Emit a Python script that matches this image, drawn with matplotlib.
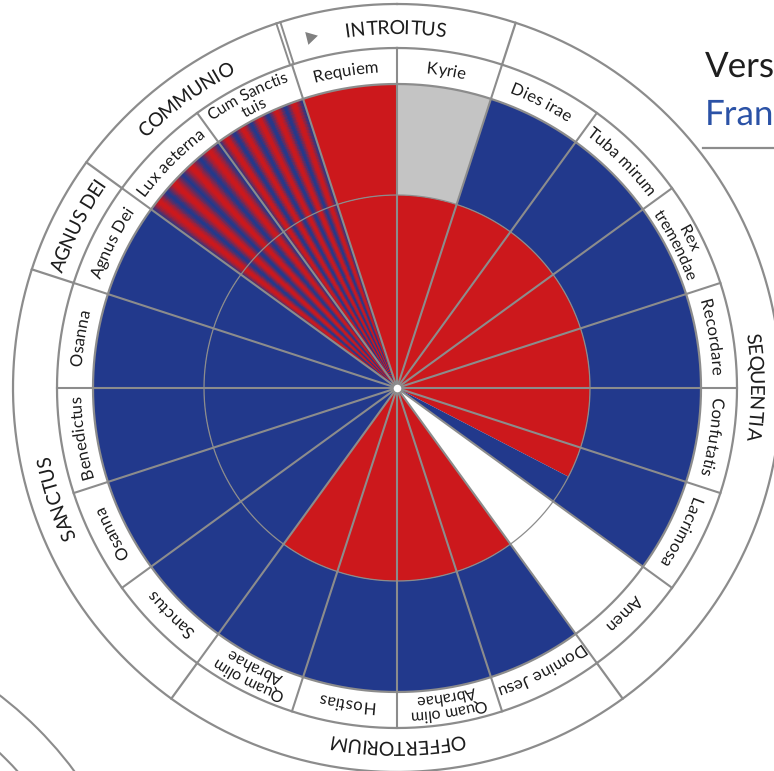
import numpy as np
import matplotlib.pyplot as plt
import matplotlib.patheffects as pe
from matplotlib import font_manager
from matplotlib.ft2font import FT2Font, LoadFlags
from matplotlib.colors import LinearSegmentedColormap
from matplotlib.patches import Circle

plt.rcParams["text.hinting"] = "none"
plt.rcParams["text.hinting_factor"] = 1

# --- data -------------------------------------------------------------
sections = ["INTROITUS", "SEQUENTIA", "OFFERTORIUM", "SANCTUS", "AGNUS DEI", "COMMUNIO"]
section_counts = [2, 7, 4, 4, 1, 2]

movements = ["Requiem", "Kyrie", "Dies irae", "Tuba mirum", "Rex\ntremendae",
             "Recordare", "Confutatis", "Lacrimosa", "Amen", "Domine Jesu",
             "Quam olim\nAbrahae", "Hostias", "Quam olim\nAbrahae", "Sanctus",
             "Osanna", "Benedictus", "Osanna", "Agnus Dei", "Lux aeterna",
             "Cum Sanctis\ntuis"]

# who wrote the inner ring (composition) and the outer ring (orchestration)
core = ["mozart", "mozart", "mozart", "mozart", "mozart", "mozart", "mozart",
        "split", "none", "mozart", "mozart", "mozart", "mozart", "sussmayr",
        "sussmayr", "sussmayr", "sussmayr", "sussmayr", "mixed", "mixed"]
orch = ["mozart", "other", "sussmayr", "sussmayr", "sussmayr", "sussmayr",
        "sussmayr", "sussmayr", "none", "sussmayr", "sussmayr", "sussmayr",
        "sussmayr", "sussmayr", "sussmayr", "sussmayr", "sussmayr", "sussmayr",
        "mixed", "mixed"]
lacrimosa_mozart_share = 0.52
stripe_cycles = {"Lux aeterna": 4, "Cum Sanctis\ntuis": 5}

colours = {"mozart": "#cc181c", "sussmayr": "#22398c", "other": "#c4c4c4", "none": "white"}
line_col = "#8c8c8c"
text_col = "#1e1e1e"

# radii in pixels
R_CORE, R_DATA, R_LAB, R_SEC = 193, 304, 340, 384

W, H = 774, 771
cx, cy = 397, 388
fig = plt.figure(figsize=(W / 100, H / 100), dpi=100)

# background axes in pixel coordinates (neighbouring wheel, header)
bg = fig.add_axes([0, 0, 1, 1], zorder=-1)
bg.set_xlim(0, W)
bg.set_ylim(H, 0)
bg.axis("off")
for rr in (R_SEC, R_LAB):
    bg.add_patch(Circle((-234, 1000), rr, fill=False, ec=line_col, lw=1.5))
bg.plot([703, W], [148, 148], color=line_col, lw=1.6)

rmax = 392
ax = fig.add_axes([(cx - rmax) / W, (H - cy - rmax) / H, 2 * rmax / W, 2 * rmax / H],
                  projection="polar")
ax.set_theta_zero_location("N")
ax.set_theta_direction(-1)
ax.set_ylim(0, rmax)
ax.set_axis_off()

n = len(movements)
w = 2 * np.pi / n
start = -w
left = start + np.arange(n) * w
centre = left + w / 2

# plain wedges
for ring, bottom, height in ((core, 0, R_CORE), (orch, R_CORE, R_DATA - R_CORE)):
    idx = [i for i, c in enumerate(ring) if c in colours]
    ax.bar(centre[idx], height, width=w, bottom=bottom,
           color=[colours[ring[i]] for i in idx], linewidth=0, zorder=1)

# Lacrimosa: split composition
i = core.index("split")
s = lacrimosa_mozart_share
ax.bar(left[i] + s * w / 2, R_CORE, width=s * w, bottom=0, color=colours["mozart"], linewidth=0, zorder=1)
ax.bar(left[i] + s * w + (1 - s) * w / 2, R_CORE, width=(1 - s) * w, bottom=0,
       color=colours["sussmayr"], linewidth=0, zorder=1)

# mixed (striped) movements
cmap = LinearSegmentedColormap.from_list("mix", [colours["sussmayr"], colours["mozart"]])
for i, name in enumerate(movements):
    if core[i] != "mixed":
        continue
    th = np.linspace(left[i], left[i] + w, 241)
    mid = (th[:-1] + th[1:]) / 2
    v = 0.5 - 0.5 * np.cos(2 * np.pi * stripe_cycles[name] * (mid - left[i]) / w)
    v = v ** 0.8
    ax.pcolormesh(th, [0, R_DATA], v[None, :], cmap=cmap, vmin=0, vmax=1,
                  shading="flat", zorder=1)

# grid lines
full = np.linspace(0, 2 * np.pi, 721)
ax.plot(full, np.full_like(full, R_CORE), color=line_col, lw=0.9, zorder=3)
for rr in (R_DATA, R_LAB, R_SEC):
    ax.plot(full, np.full_like(full, rr), color=line_col, lw=1.6, zorder=3)
for b in left:
    ax.plot([b, b], [0, R_LAB], color=line_col, lw=1.5, zorder=3)
sec_edges = start + np.cumsum([0] + section_counts) * w
for b in sec_edges[1:-1]:
    ax.plot([b, b], [R_LAB, R_SEC], color=line_col, lw=1.6, zorder=3)
for off in (-0.0055, 0.0055):
    ax.plot([start + off] * 2, [R_LAB, R_SEC], color=line_col, lw=1.4, zorder=3)

ax.scatter([0], [0], s=45, c="white", edgecolors=line_col, linewidths=1.2, zorder=6)

# direction marker
tri_th = np.radians(-13.9)
ax.plot([tri_th], [362], marker=(3, 0, -90 - np.degrees(tri_th)), ms=11,
        color="#808080", mec="none", zorder=4)

# --- curved text -------------------------------------------------------
font_path = font_manager.findfont(font_manager.FontProperties(family="Lato"))
ft = FT2Font(font_path, hinting_factor=1)


def metrics(text, size):
    # advance and half ink width of every glyph, in pixels (unhinted)
    ft.set_size(size, 100)
    out = []
    for ch in text:
        g = ft.load_char(ord(ch), flags=LoadFlags.NO_HINTING)
        out.append((g.linearHoriAdvance / 65536, g.width / 128))
    return out


def arc_text(text, theta_c, r_base, size):
    m = metrics(text, size)
    pos = -sum(a for a, _ in m) / 2
    for ch, (a, half) in zip(text, m):
        # drawn as a path: pen origin sits at the left of the ink box
        th = theta_c + (pos + half) / r_base
        pos += a
        if ch == " ":
            continue
        ax.text(th, r_base, ch, rotation=-np.degrees(th), rotation_mode="anchor",
                ha="center", va="baseline", fontsize=size, color=text_col,
                family=["Lato", "DejaVu Sans"], zorder=5,
                path_effects=[pe.Normal()])


for name, tc in zip(movements, centre):
    lines = name.split("\n")
    if len(lines) == 1:
        arc_text(lines[0], tc, 316, 12)
    else:
        arc_text(lines[0], tc, 325, 11.5)
        arc_text(lines[1], tc, 310, 11.5)

sec_centre = (sec_edges[:-1] + sec_edges[1:]) / 2
sec_centre[1] = np.radians(90)
for name, tc in zip(sections, sec_centre):
    arc_text(name, tc, 354, 14)

fig.text(705 / W, 1 - 77 / H, "Vers", fontsize=25, color="#1e1e1e",
         family=["Lato", "DejaVu Sans"], va="baseline")
fig.text(705 / W, 1 - 125 / H, "Fran", fontsize=25, color="#2b52a6",
         family=["Lato", "DejaVu Sans"], va="baseline")

fig.savefig("out.png", dpi=100, facecolor="white")
